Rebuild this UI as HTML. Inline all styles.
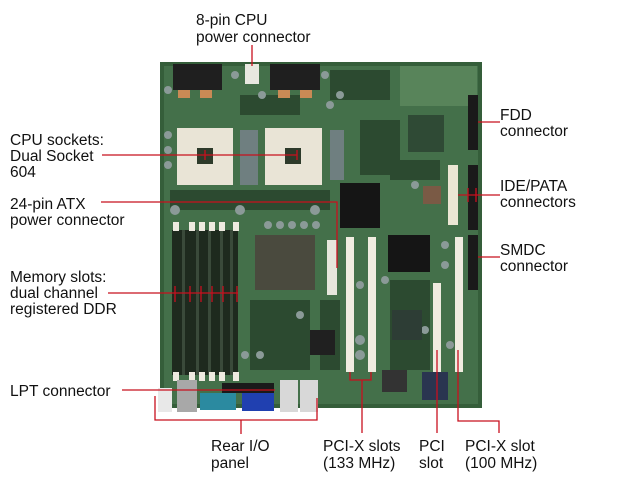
<!DOCTYPE html>
<html><head><meta charset="utf-8"><style>
html,body{margin:0;padding:0;background:#fff;}
svg{display:block;}
text{font-family:"Liberation Sans",Arial,sans-serif;font-size:15.5px;fill:#111;}
</style></head><body>
<svg width="640" height="480" viewBox="0 0 640 480" xmlns="http://www.w3.org/2000/svg">
<rect width="640" height="480" fill="#fff"/>
<!-- board -->
<rect x="160" y="62" width="322" height="346" fill="#355e3a"/>
<rect x="164" y="66" width="314" height="338" fill="#44704a"/>
<rect x="400" y="66" width="77" height="40" fill="#58845a"/>
<!-- texture -->
<g fill="#2c4a30">
<rect x="240" y="95" width="60" height="20"/><rect x="330" y="70" width="60" height="30"/>
<rect x="360" y="120" width="40" height="55"/><rect x="390" y="160" width="50" height="20"/>
<rect x="250" y="300" width="60" height="70"/><rect x="390" y="280" width="40" height="90"/>
<rect x="170" y="190" width="160" height="20"/><rect x="320" y="300" width="20" height="70"/>
</g>
<g fill="#8b9a98">
<circle cx="168" cy="90" r="4"/><circle cx="168" cy="135" r="4"/><circle cx="168" cy="150" r="4"/><circle cx="168" cy="165" r="4"/>
<circle cx="235" cy="75" r="4"/><circle cx="262" cy="95" r="4"/><circle cx="325" cy="75" r="4"/><circle cx="340" cy="95" r="4"/>
<circle cx="268" cy="225" r="4"/><circle cx="280" cy="225" r="4"/><circle cx="292" cy="225" r="4"/><circle cx="304" cy="225" r="4"/><circle cx="316" cy="225" r="4"/>
<circle cx="360" cy="285" r="4"/><circle cx="360" cy="340" r="5"/><circle cx="360" cy="355" r="5"/><circle cx="385" cy="280" r="4"/>
<circle cx="415" cy="185" r="4"/><circle cx="445" cy="245" r="4"/><circle cx="445" cy="265" r="4"/><circle cx="300" cy="315" r="4"/>
<circle cx="245" cy="355" r="4"/><circle cx="260" cy="355" r="4"/><circle cx="425" cy="330" r="4"/><circle cx="450" cy="345" r="4"/>
<circle cx="330" cy="105" r="4"/><circle cx="175" cy="210" r="5"/><circle cx="240" cy="210" r="5"/><circle cx="315" cy="210" r="5"/>
</g>
<!-- top heatsinks -->
<rect x="173" y="64" width="49" height="26" fill="#1f1f1f"/>
<rect x="270" y="64" width="50" height="26" fill="#1f1f1f"/>
<rect x="245" y="64" width="14" height="20" fill="#e8e8e0"/>
<rect x="178" y="90" width="12" height="8" fill="#c98a55"/><rect x="200" y="90" width="12" height="8" fill="#c98a55"/>
<rect x="278" y="90" width="12" height="8" fill="#c98a55"/><rect x="300" y="90" width="12" height="8" fill="#c98a55"/>
<!-- CPU sockets -->
<rect x="177" y="128" width="56" height="57" fill="#e9e4d6"/>
<rect x="197" y="148" width="16" height="16" fill="#2d3a2a"/>
<rect x="265" y="128" width="57" height="57" fill="#e9e4d6"/>
<rect x="285" y="148" width="16" height="16" fill="#2d3a2a"/>
<rect x="240" y="130" width="18" height="55" fill="#6f7f80"/>
<rect x="330" y="130" width="14" height="50" fill="#6f7f80"/>
<!-- memory slots -->
<rect x="172" y="230" width="66" height="145" fill="#1e2a1e"/>
<g fill="#3a4a3a"><rect x="182" y="230" width="3" height="145"/><rect x="196" y="230" width="3" height="145"/><rect x="208" y="230" width="3" height="145"/><rect x="220" y="230" width="3" height="145"/><rect x="230" y="230" width="3" height="145"/></g>
<g fill="#eeeae0"><rect x="173" y="222" width="6" height="9"/><rect x="189" y="222" width="6" height="9"/><rect x="199" y="222" width="6" height="9"/><rect x="209" y="222" width="6" height="9"/><rect x="219" y="222" width="6" height="9"/><rect x="233" y="222" width="6" height="9"/>
<rect x="173" y="372" width="6" height="9"/><rect x="189" y="372" width="6" height="9"/><rect x="199" y="372" width="6" height="9"/><rect x="209" y="372" width="6" height="9"/><rect x="219" y="372" width="6" height="9"/><rect x="233" y="372" width="6" height="9"/></g>
<!-- heatsinks -->
<rect x="255" y="235" width="60" height="55" fill="#4a4a3e"/>
<rect x="340" y="183" width="40" height="45" fill="#151515"/>
<rect x="388" y="235" width="42" height="37" fill="#151515"/>
<rect x="408" y="115" width="36" height="37" fill="#2f4a35"/>
<rect x="392" y="310" width="30" height="30" fill="#2d3d35"/>
<rect x="310" y="330" width="25" height="25" fill="#202020"/>
<rect x="422" y="372" width="26" height="28" fill="#2a3550"/>
<rect x="382" y="370" width="25" height="22" fill="#333"/>
<rect x="327" y="240" width="10" height="55" fill="#e6e6dc"/>
<!-- PCI slots -->
<rect x="346" y="237" width="8" height="135" fill="#f0ece0"/>
<rect x="368" y="237" width="8" height="135" fill="#f0ece0"/>
<rect x="433" y="283" width="8" height="89" fill="#f0ece0"/>
<rect x="455" y="237" width="8" height="135" fill="#f0ece0"/>
<rect x="448" y="165" width="10" height="60" fill="#ece6d4"/>
<rect x="468" y="95" width="10" height="55" fill="#1a1a1a"/>
<rect x="468" y="165" width="10" height="65" fill="#1a1a1a"/>
<rect x="468" y="235" width="10" height="55" fill="#1a1a1a"/>
<rect x="423" y="186" width="18" height="18" fill="#7a5a45"/>
<!-- rear IO -->
<rect x="158" y="388" width="14" height="24" fill="#e8e8e8"/>
<rect x="177" y="380" width="20" height="32" fill="#a8a8a8"/>
<rect x="222" y="383" width="52" height="10" fill="#1a1a1a"/>
<rect x="200" y="393" width="36" height="17" fill="#2b8aa0"/>
<rect x="242" y="393" width="32" height="18" fill="#2040b0"/>
<rect x="280" y="380" width="18" height="32" fill="#d8d8d8"/>
<rect x="300" y="380" width="18" height="32" fill="#d8d8d8"/>
<!-- leader lines -->
<g stroke="#c8101e" stroke-width="1.3" fill="none">
<line x1="252" y1="45" x2="252" y2="66"/>
<line x1="102" y1="155" x2="297" y2="155"/>
<line x1="205" y1="150" x2="205" y2="160"/><line x1="297" y1="150" x2="297" y2="160"/>
<polyline points="101,202 337,202 337,268"/>
<line x1="108" y1="293" x2="238" y2="293"/>
<line x1="175" y1="286" x2="175" y2="302"/><line x1="190" y1="286" x2="190" y2="302"/><line x1="201" y1="286" x2="201" y2="302"/><line x1="212" y1="286" x2="212" y2="302"/><line x1="223" y1="286" x2="223" y2="302"/><line x1="237" y1="286" x2="237" y2="302"/>
<line x1="122" y1="390" x2="275" y2="390"/>
<polyline points="155,396 155,420 317,420 317,398"/>
<line x1="241" y1="420" x2="241" y2="434"/>
<polyline points="350,372 350,380 371,380 371,372"/>
<line x1="362" y1="380" x2="362" y2="433"/>
<line x1="437" y1="350" x2="437" y2="433"/>
<polyline points="458,350 458,421 499,421 499,433"/>
<line x1="478" y1="122" x2="500" y2="122"/>
<line x1="458" y1="195" x2="500" y2="195"/><line x1="468" y1="188" x2="468" y2="202"/><line x1="476" y1="188" x2="476" y2="202"/>
<line x1="478" y1="257" x2="500" y2="257"/>
</g>
<!-- labels -->
<text x="196" y="25">8-pin CPU</text>
<text x="196" y="42">power connector</text>
<text x="10" y="145">CPU sockets:</text>
<text x="10" y="161">Dual Socket</text>
<text x="10" y="177">604</text>
<text x="10" y="209">24-pin ATX</text>
<text x="10" y="225">power connector</text>
<text x="10" y="282">Memory slots:</text>
<text x="10" y="298">dual channel</text>
<text x="10" y="314">registered DDR</text>
<text x="10" y="396">LPT connector</text>
<text x="211" y="451">Rear I/O</text>
<text x="211" y="468">panel</text>
<text x="323" y="451">PCI-X slots</text>
<text x="323" y="468">(133 MHz)</text>
<text x="419" y="451">PCI</text>
<text x="419" y="468">slot</text>
<text x="465" y="451">PCI-X slot</text>
<text x="465" y="468">(100 MHz)</text>
<text x="500" y="120">FDD</text>
<text x="500" y="136">connector</text>
<text x="500" y="191">IDE/PATA</text>
<text x="500" y="207">connectors</text>
<text x="500" y="255">SMDC</text>
<text x="500" y="271">connector</text>
</svg>
</body></html>
